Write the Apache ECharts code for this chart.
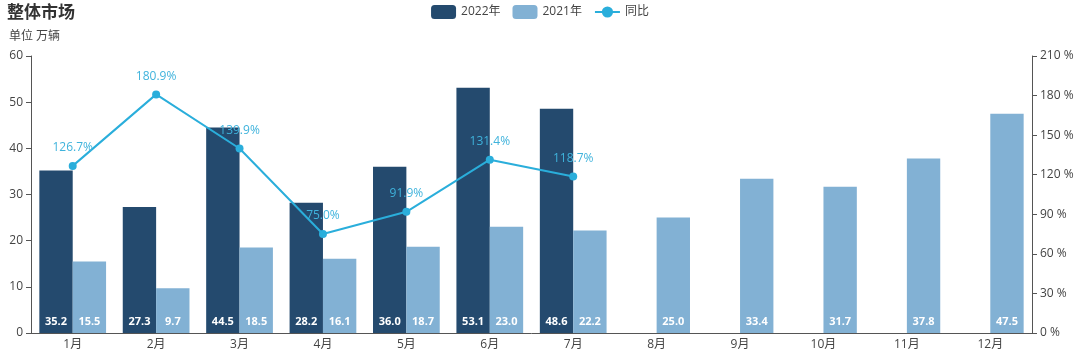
<!DOCTYPE html>
<html><head><meta charset="utf-8">
<script src="https://cdn.jsdelivr.net/npm/echarts@6/dist/echarts.min.js"></script>
<style>html,body{margin:0;padding:0;background:#fff}#c{width:1080px;height:353px}</style>
</head><body><div id="c"></div>
<script>
const categories = ['1月','2月','3月','4月','5月','6月','7月','8月','9月','10月','11月','12月'];
const sales2022 = [35.2, 27.3, 44.5, 28.2, 36.0, 53.1, 48.6];
const sales2021 = [15.5, 9.7, 18.5, 16.1, 18.7, 23.0, 22.2, 25.0, 33.4, 31.7, 37.8, 47.5];
const yoy = [126.7, 180.9, 139.9, 75.0, 91.9, 131.4, 118.7];

const font = '"Open Sans", "Noto Sans CJK SC", sans-serif';
const chart = echarts.init(document.getElementById('c'));
const barLabel = {show:true, position:'insideBottom', distance:6, color:'#fff', fontSize:11, fontWeight:'bold', fontFamily:font, formatter:p=>p.value.toFixed(1)};
chart.setOption({
  animation:false,
  textStyle:{fontFamily:font},
  title:[
    {text:'整体市场', left:2, top:0, textStyle:{fontSize:17, fontWeight:'bold', color:'#333', fontFamily:font}},
    {text:'单位 万辆', left:4, top:26, textStyle:{fontSize:12, fontWeight:'normal', color:'#444', fontFamily:font}}
  ],
  legend:{top:0, left:'center', itemWidth:25, itemHeight:14, itemGap:12,
    textStyle:{fontSize:12, color:'#444', fontFamily:font},
    data:[{name:'2022年'},{name:'2021年'},{name:'同比'}]},
  grid:{left:31, right:48, top:56, bottom:20, containLabel:false},
  xAxis:{type:'category', data:categories,
    axisLine:{lineStyle:{color:'#555'}}, axisTick:{lineStyle:{color:'#555'}},
    axisLabel:{color:'#444', fontSize:12, margin:6}},
  yAxis:[
    {type:'value', min:0, max:60, interval:10, splitLine:{show:false},
     axisLine:{show:true, lineStyle:{color:'#555'}}, axisTick:{show:true, lineStyle:{color:'#555'}},
     axisLabel:{color:'#444', fontSize:12}},
    {type:'value', min:0, max:210, interval:30, splitLine:{show:false},
     axisLine:{show:true, lineStyle:{color:'#555'}}, axisTick:{show:true, lineStyle:{color:'#555'}},
     axisLabel:{color:'#444', fontSize:12, formatter:'{value} %'}}
  ],
  series:[
    {name:'2022年', type:'bar', data:sales2022, barGap:'0%', barCategoryGap:'20%',
     itemStyle:{color:'#244a6e'}, label:barLabel},
    {name:'2021年', type:'bar', data:sales2021,
     itemStyle:{color:'#82b1d4'}, label:barLabel},
    {name:'同比', type:'line', yAxisIndex:1, data:yoy, symbol:'circle', symbolSize:8,
     itemStyle:{color:'#2aaedb'}, lineStyle:{color:'#2aaedb', width:2},
     label:{show:true, position:'top', distance:8, color:'#3fb3dc', fontSize:12, fontFamily:font, formatter:p=>p.value.toFixed(1)+'%'}}
  ]
});
</script></body></html>
